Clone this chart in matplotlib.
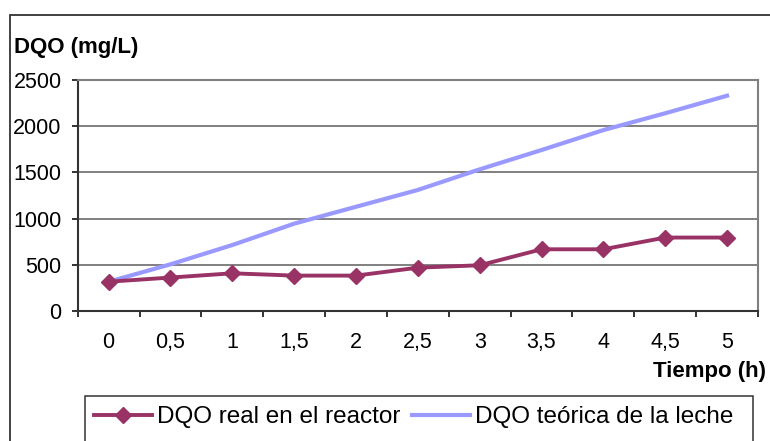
import matplotlib
matplotlib.use('Agg')
import matplotlib.pyplot as plt
from matplotlib.patches import Rectangle

plt.rcParams['font.family'] = ['Liberation Sans', 'DejaVu Sans']

tiempo = ['0', '0,5', '1', '1,5', '2', '2,5', '3', '3,5', '4', '4,5', '5']
dqo_real = [317, 362, 408, 383, 383, 469, 495, 668, 668, 795, 795]
dqo_teorica = [317, 505, 714, 945, 1128, 1310, 1533, 1742, 1958, 2140, 2330]

W, H = 770, 441
fig = plt.figure(figsize=(W / 100, H / 100), dpi=100)
ax = fig.add_axes([77.7 / W, (H - 311) / H, (758 - 77.7) / W, (311 - 80) / H])

x = range(len(tiempo))
ax.plot(x, dqo_real, color='#993366', lw=2.8, marker='D', ms=8,
        label='DQO real en el reactor', zorder=4)
ax.plot(x, dqo_teorica, color='#9999FF', lw=3.0,
        label='DQO teórica de la leche', zorder=3)

ax.set_xlim(-0.5, len(tiempo) - 0.5)
ax.set_ylim(0, 2500)
ax.set_yticks(range(0, 2501, 500))
ax.yaxis.grid(True, color='#808080', lw=1.4)
ax.set_axisbelow(True)

# category labels in the middle, tick marks on the boundaries
ax.set_xticks(list(x))
ax.set_xticklabels(tiempo)
ax.set_xticks([i - 0.5 for i in range(len(tiempo) + 1)], minor=True)
ax.tick_params(axis='x', which='major', length=0, pad=15, labelsize=15.5)
ax.tick_params(axis='x', which='minor', length=4, width=1.4, color='#333333')
ax.tick_params(axis='y', length=4, width=1.4, color='#333333', pad=7.5, labelsize=15.5)

for side in ['left', 'bottom']:
    ax.spines[side].set_color('#333333')
    ax.spines[side].set_linewidth(1.5)
for side in ['top', 'right']:
    ax.spines[side].set_color('#808080')
    ax.spines[side].set_linewidth(1.5)

fig.text(14 / W, 1 - 53 / H, 'DQO (mg/L)', fontsize=16, fontweight='bold',
         ha='left', va='baseline')
fig.text(766 / W, 1 - 377 / H, 'Tiempo (h)', fontsize=16, fontweight='bold',
         ha='right', va='baseline')

# outer chart frame and legend box, both running past the lower edge
fig.add_artist(Rectangle((10 / W, -0.1), 1.2, 1 - 15 / H + 0.1,
                         transform=fig.transFigure, fill=False,
                         ec='#333333', lw=1.3))
fig.add_artist(Rectangle((85 / W, -0.1), (753 - 85) / W, 1 - 396 / H + 0.1,
                         transform=fig.transFigure, fill=False,
                         ec='#333333', lw=1.1))

handles, labels = ax.get_legend_handles_labels()
fig.legend(handles, labels, loc='center left',
           bbox_to_anchor=(94 / W, 1 - 417 / H), ncol=2, frameon=False,
           fontsize=17.5, handlelength=2.4, handletextpad=0.2,
           columnspacing=0.45, borderpad=0, borderaxespad=0)

fig.savefig('out.png', dpi=100)
